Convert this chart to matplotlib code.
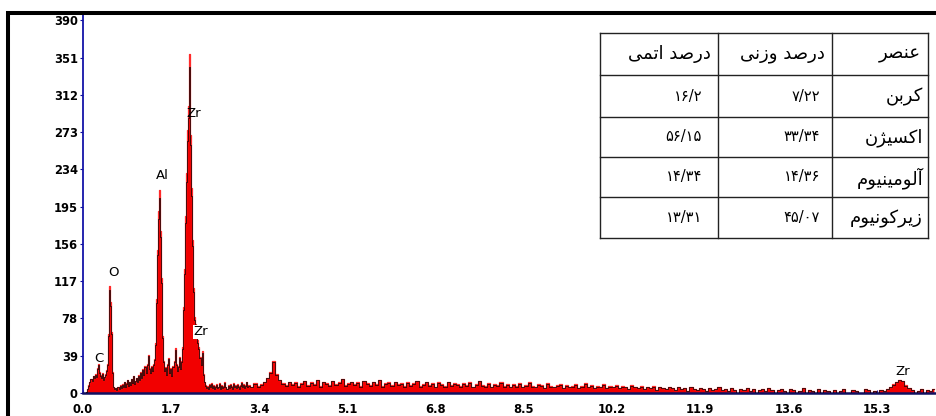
import numpy as np
import matplotlib
matplotlib.use("Agg")
import matplotlib.pyplot as plt
from matplotlib.patches import Rectangle
from matplotlib.lines import Line2D

# ---------------- spectrum data ----------------
# low-energy channels, 0.00 .. 3.18 keV, 0.02 keV apart
low_step = 0.02
low_counts = [
    0, 0, 0, 0, 1, 4, 8, 12, 15, 13,
    18, 16, 20, 17, 26, 30, 22, 19, 16, 21,
    14, 17, 20, 24, 30, 62, 112, 95, 64, 22,
    6, 4, 5, 3, 6, 4, 8, 5, 9, 6,
    12, 7, 10, 14, 8, 12, 9, 15, 11, 18,
    10, 13, 16, 12, 19, 14, 22, 16, 25, 20,
    28, 22, 30, 40, 26, 22, 28, 24, 30, 36,
    52, 98, 150, 190, 212, 170, 120, 60, 34, 24,
    27, 20, 30, 37, 22, 26, 19, 28, 34, 47,
    30, 24, 28, 38, 26, 34, 48, 90, 130, 185,
    230, 275, 300, 355, 270, 215, 160, 110, 80, 72,
    62, 55, 48, 38, 30, 44, 20, 12, 8, 5,
    7, 4, 9, 6, 10, 5, 8, 4, 7, 9,
    5, 6, 10, 4, 8, 5, 7, 11, 6, 4,
    8, 5, 9, 7, 4, 10, 6, 8, 5, 9,
    7, 4, 8, 11, 6, 9, 5, 8, 12, 7,
]

# high-energy channels, from 3.20 keV, 0.06 keV apart
high_start = 3.20
high_step = 0.06
high_counts = [
    8, 6, 10, 7, 9, 12, 16, 22, 34, 20, 14, 10, 8, 12, 9, 11, 7,
    10, 13, 8, 11, 9, 14, 7, 12, 10, 8, 13, 9, 11, 15, 8, 10, 12,
    9, 11, 7, 13, 10, 8, 12, 9, 14, 7, 10, 11, 8, 12, 9, 10, 7,
    11, 8, 10, 13, 7, 9, 12, 8, 10, 6, 11, 9, 7, 12, 8, 10, 9,
    7, 10, 8, 11, 6, 9, 13, 8, 7, 10, 6, 9, 8, 11, 7, 9, 6,
    9, 7, 10, 6, 8, 11, 7, 6, 9, 8, 5, 10, 7, 6, 8, 9, 5,
    8, 6, 7, 9, 5, 7, 10, 6, 8, 5, 7, 6, 9, 5, 7, 6, 8,
    5, 7, 6, 4, 8, 6, 5, 7, 4, 6, 5, 7, 3, 6, 5, 4, 6,
    5, 3, 6, 4, 5, 2, 6, 4, 3, 5, 4, 2, 5, 3, 4, 6, 3,
    4, 2, 5, 3, 0, 4, 3, 5, 2, 4, 0, 3, 4, 2, 5, 3, 0,
    3, 4, 2, 0, 4, 3, 0, 2, 5, 0, 3, 2, 0, 4, 0, 3, 2,
    0, 3, 0, 2, 4, 0, 0, 3, 2, 0, 0, 4, 3, 0, 2, 0, 3,
    2, 4, 6, 9, 12, 14, 13, 8, 5, 3, 0, 2, 4, 0, 3, 2, 4,
]

# peak labels: (text, energy keV, counts)
peak_labels = ["C", "O", "Al", "Zr", "Zr", "Zr"]
peak_energy = [0.32, 0.59, 1.53, 2.13, 2.27, 15.80]
peak_height = [36, 126, 228, 292, 64, 23]

y_ticks = [0, 39, 78, 117, 156, 195, 234, 273, 312, 351, 390]
x_ticks = [0.0, 1.7, 3.4, 5.1, 6.8, 8.5, 10.2, 11.9, 13.6, 15.3]

# composition table
elements = ["کربن", "اکسیژن", "آلومینیوم", "زیرکونیوم"]
weight_pct = [7.22, 33.34, 14.36, 45.07]
atomic_pct = [16.2, 56.15, 14.34, 13.31]
headers = ["درصد اتمی", "درصد وزنی", "عنصر"]

# ---------------- Persian text shaping ----------------
FORMS = {  # isolated, final, initial, medial
    'ا': ('\uFE8D', '\uFE8E', None, None),
    'آ': ('\uFE81', '\uFE82', None, None),
    'ب': ('\uFE8F', '\uFE90', '\uFE91', '\uFE92'),
    'ت': ('\uFE95', '\uFE96', '\uFE97', '\uFE98'),
    'د': ('\uFEA9', '\uFEAA', None, None),
    'ر': ('\uFEAD', '\uFEAE', None, None),
    'ز': ('\uFEAF', '\uFEB0', None, None),
    'ژ': ('\uFB8A', '\uFB8B', None, None),
    'س': ('\uFEB1', '\uFEB2', '\uFEB3', '\uFEB4'),
    'ص': ('\uFEB9', '\uFEBA', '\uFEBB', '\uFEBC'),
    'ع': ('\uFEC9', '\uFECA', '\uFECB', '\uFECC'),
    'ک': ('\uFB8E', '\uFB8F', '\uFB90', '\uFB91'),
    'ل': ('\uFEDD', '\uFEDE', '\uFEDF', '\uFEE0'),
    'م': ('\uFEE1', '\uFEE2', '\uFEE3', '\uFEE4'),
    'ن': ('\uFEE5', '\uFEE6', '\uFEE7', '\uFEE8'),
    'و': ('\uFEED', '\uFEEE', None, None),
    'ی': ('\uFBFC', '\uFBFD', '\uFBFE', '\uFBFF'),
}


def shape(text):
    out = []
    for i, ch in enumerate(text):
        f = FORMS.get(ch)
        if f is None:
            out.append(ch)
            continue
        prev = text[i - 1] if i > 0 else None
        nxt = text[i + 1] if i + 1 < len(text) else None
        jp = prev in FORMS and FORMS[prev][2] is not None
        jn = nxt in FORMS and f[2] is not None
        if jp and jn:
            out.append(f[3])
        elif jp:
            out.append(f[1])
        elif jn:
            out.append(f[2])
        else:
            out.append(f[0])
    return ''.join(reversed(out))


def fa_number(v):
    s = repr(v)
    return s.translate(str.maketrans("0123456789.", "۰۱۲۳۴۵۶۷۸۹/"))


# ---------------- figure ----------------
W, H = 936, 416
fig = plt.figure(figsize=(W / 100, H / 100), dpi=100)
fig.patch.set_facecolor("white")

tick_font = dict(family="DejaVu Sans", weight="bold", size=8.3)


def px(x, y):
    return x / W, 1 - y / H


x0_px, y0_px, ytop_px = 82.7, 393.0, 14.5
ax = fig.add_axes([x0_px / W, 1 - y0_px / H, (W - x0_px) / W, (y0_px - ytop_px) / H])

e_low = np.arange(len(low_counts)) * low_step
e_high = high_start + np.arange(len(high_counts)) * high_step
energy = np.concatenate([e_low, e_high])
counts = np.array(low_counts + high_counts, dtype=float)

ax.fill_between(energy, counts, 0, step="mid", color="#f20000", lw=0, zorder=2)
ax.plot(energy, counts, drawstyle="steps-mid", color="#ff2a2a", lw=0.9, zorder=2)
ax.plot(energy, counts * 0.96, drawstyle="steps-mid", color="black", lw=0.5, zorder=3)

ax.set_xlim(0, 16.44)
ax.set_ylim(0, 396)
ax.set_yticks(y_ticks)
ax.set_yticklabels([str(v) for v in y_ticks], **tick_font)
ax.set_xticks(x_ticks)
ax.set_xticklabels([f"{v:.1f}" for v in x_ticks], **tick_font)
ax.tick_params(axis="y", direction="out", length=2, width=0.8, color="#1010a0", pad=1.5)
ax.tick_params(axis="x", direction="in", length=2, width=0.8, color="#1010a0", pad=7)

for side in ("top", "right"):
    ax.spines[side].set_visible(False)
ax.spines["left"].set_color("#1414a8")
ax.spines["left"].set_linewidth(1.3)
ax.spines["bottom"].set_color("#101060")
ax.spines["bottom"].set_linewidth(1.8)

for lab, e, c in zip(peak_labels, peak_energy, peak_height):
    ax.text(e, c, lab, ha="center", va="center", fontsize=9.5, family="DejaVu Sans",
            color="black", zorder=5,
            bbox=dict(boxstyle="square,pad=0.05", fc="white", ec="none") if (lab == "Zr" and c < 100) else None)

# ---------------- table ----------------
col_x = [600, 718, 832, 928]
row_y = [33, 75, 117, 157, 197, 238]
tbl_kw = dict(transform=fig.transFigure, color="#222222", lw=1.0, zorder=6)
for x in col_x:
    fig.add_artist(Line2D([x / W, x / W], [1 - row_y[0] / H, 1 - row_y[-1] / H], **tbl_kw))
for y in row_y:
    fig.add_artist(Line2D([col_x[0] / W, col_x[-1] / W], [1 - y / H, 1 - y / H], **tbl_kw))

fa_font = dict(family="DejaVu Sans", size=13)
num_font = dict(family="DejaVu Sans", size=10.5)
for j, h in enumerate(headers):
    cy = (row_y[0] + row_y[1]) / 2
    fig.text(*px(col_x[j + 1] - 7, cy), shape(h), ha="right", va="center", **fa_font)
for i in range(len(elements)):
    cy = (row_y[i + 1] + row_y[i + 2]) / 2
    fig.text(*px(col_x[1] - 16, cy), fa_number(atomic_pct[i]), ha="right", va="center", **num_font)
    fig.text(*px(col_x[2] - 12, cy), fa_number(weight_pct[i]), ha="right", va="center", **num_font)
    fig.text(*px(col_x[3] - 5, cy + 1), shape(elements[i]), ha="right", va="center", **fa_font)

# outer frame
fig.add_artist(Rectangle(px(8.3, 500), 2.0, (500 - 13) / H, transform=fig.transFigure,
                         fill=False, ec="black", lw=2.9, zorder=10, clip_on=False))

fig.savefig("out.png", dpi=100)
